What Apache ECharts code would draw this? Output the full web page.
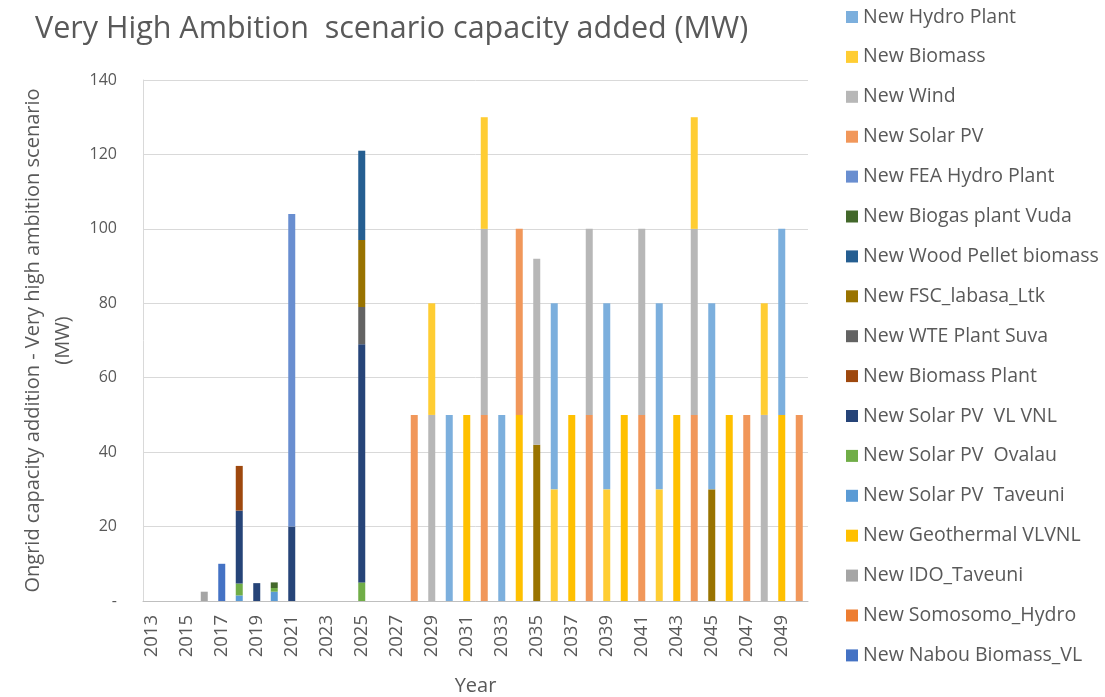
<!DOCTYPE html>
<html>
<head>
<meta charset="utf-8">
<script src="https://cdn.jsdelivr.net/npm/echarts@6/dist/echarts.min.js"></script>
<style>
html,body{margin:0;padding:0;background:#fff;overflow:hidden;}
#chart{width:1105px;height:697px;}
</style>
</head>
<body>
<div id="chart"></div>
<script>
// Categories (years)
const years = ['2013','2014','2015','2016','2017','2018','2019','2020','2021','2022','2023','2024','2025','2026','2027','2028','2029','2030','2031','2032','2033','2034','2035','2036','2037','2038','2039','2040','2041','2042','2043','2044','2045','2046','2047','2048','2049','2050'];

// Series values, keyed by year (MW)
const nabouBiomass   = {2017: 10};
const somosomoHydro  = {};
const idoTaveuni     = {2016: 2.5};
const geothermal     = {2031: 50, 2034: 50, 2037: 50, 2040: 50, 2043: 50, 2046: 50, 2049: 50};
const solarTaveuni   = {2018: 1.5, 2020: 2.5};
const solarOvalau    = {2018: 3.2, 2020: 1, 2025: 5};
const solarVLVNL     = {2018: 19.6, 2019: 4.8, 2021: 20, 2025: 64};
const biomassPlant   = {2018: 12};
const wteSuva        = {2025: 10};
const fscLabasa      = {2025: 18, 2035: 42, 2045: 30};
const woodPellet     = {2025: 24};
const biogasVuda     = {2020: 1.5};
const feaHydro       = {2021: 84};
const solarPV        = {2028: 50, 2032: 50, 2034: 50, 2038: 50, 2041: 50, 2044: 50, 2047: 50, 2050: 50};
const wind           = {2029: 50, 2032: 50, 2035: 50, 2038: 50, 2041: 50, 2044: 50, 2048: 50};
const biomass        = {2029: 30, 2032: 30, 2036: 30, 2039: 30, 2042: 30, 2044: 30, 2048: 30};
const hydroPlant     = {2030: 50, 2033: 50, 2036: 50, 2039: 50, 2042: 50, 2045: 50, 2049: 50};

// Y tick labels
const yTicks = {0: '-', 20: '20', 40: '40', 60: '60', 80: '80', 100: '100', 120: '120', 140: '140'};

// Series definitions (stack order bottom -> top)
const seriesDefs = [
  ['New Nabou Biomass_VL', nabouBiomass, '#4472C4'],
  ['New Somosomo_Hydro', somosomoHydro, '#ED7D31'],
  ['New IDO_Taveuni', idoTaveuni, '#A5A5A5'],
  ['New Geothermal VLVNL', geothermal, '#FFC000'],
  ['New Solar PV  Taveuni', solarTaveuni, '#5B9BD5'],
  ['New Solar PV  Ovalau', solarOvalau, '#70AD47'],
  ['New Solar PV  VL VNL', solarVLVNL, '#264478'],
  ['New Biomass Plant', biomassPlant, '#9E480E'],
  ['New WTE Plant Suva', wteSuva, '#636363'],
  ['New FSC_labasa_Ltk', fscLabasa, '#997300'],
  ['New Wood Pellet biomass', woodPellet, '#255E91'],
  ['New Biogas plant Vuda', biogasVuda, '#43682B'],
  ['New FEA Hydro Plant', feaHydro, '#698ED0'],
  ['New Solar PV', solarPV, '#F1975A'],
  ['New Wind', wind, '#B7B7B7'],
  ['New Biomass', biomass, '#FFCD33'],
  ['New Hydro Plant', hydroPlant, '#7CAFDD']
];

const txt = '#595959';
const font = 'Open Sans';

const series = seriesDefs.map(([name, vals, color]) => ({
  name: name,
  type: 'bar',
  stack: 'total',
  barWidth: 7,
  itemStyle: {color: color},
  emphasis: {disabled: true},
  data: years.map(y => (vals[y] !== undefined ? vals[y] : null))
}));

const chart = echarts.init(document.getElementById('chart'), null, {renderer: 'canvas', width: 1105, height: 697});
chart.setOption({
  animation: false,
  backgroundColor: '#ffffff',
  textStyle: {fontFamily: font, color: txt},
  title: {
    text: 'Very High Ambition  scenario capacity added (MW)',
    left: 30, top: 9,
    textStyle: {fontFamily: font, fontSize: 30.5, fontWeight: 'normal', color: txt}
  },
  legend: {
    orient: 'vertical',
    left: 846, top: 7,
    padding: 0,
    icon: 'rect',
    itemWidth: 12, itemHeight: 12,
    itemGap: 19.9,
    textStyle: {fontFamily: font, fontSize: 19.5, color: txt, lineHeight: 20},
    data: seriesDefs.map(s => s[0]).reverse()
  },
  grid: {left: 143, right: 297, top: 80, bottom: 96, containLabel: false, outerBoundsMode: 'none'},
  xAxis: {
    type: 'category',
    data: years,
    name: 'Year',
    nameLocation: 'middle',
    nameGap: 75,
    nameTextStyle: {fontFamily: font, fontSize: 20, color: txt},
    axisLine: {lineStyle: {color: '#BFBFBF'}},
    axisTick: {show: false},
    axisLabel: {interval: 1, rotate: 90, fontFamily: font, fontSize: 18.5, color: txt, margin: 14}
  },
  yAxis: {
    type: 'value',
    min: 0, max: 140, interval: 20,
    name: 'Ongrid capacity addition - Very high ambition scenario\n(MW)',
    nameLocation: 'middle',
    nameGap: 65,
    nameTextStyle: {fontFamily: font, fontSize: 20, color: txt, lineHeight: 30},
    axisLine: {show: true, lineStyle: {color: '#D9D9D9'}},
    axisTick: {show: false},
    splitLine: {lineStyle: {color: '#D9D9D9'}},
    axisLabel: {fontFamily: font, fontSize: 16, color: txt, margin: 26,
      formatter: v => (yTicks[v] !== undefined ? yTicks[v] : String(v))}
  },
  series: series
});
</script>
</body>
</html>
